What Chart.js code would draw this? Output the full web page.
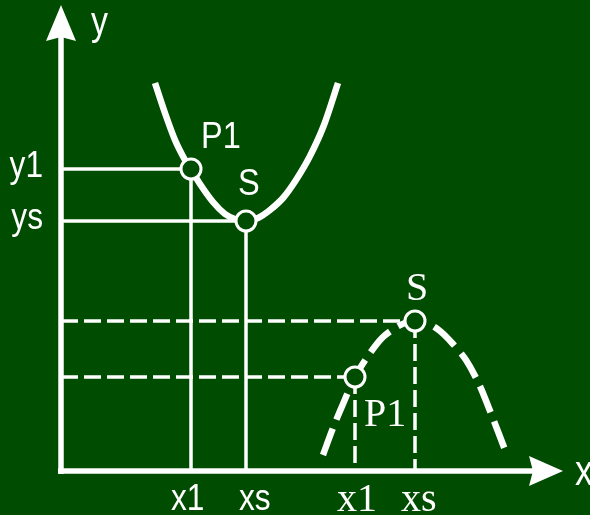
<!DOCTYPE html>
<html>
<head>
<meta charset="utf-8">
<script src="https://cdn.jsdelivr.net/npm/chart.js@4.4.1/dist/chart.umd.min.js"></script>
<style>
  html, body { margin: 0; padding: 0; background: #004c00; }
  canvas { display: block; }
</style>
</head>
<body>
<canvas id="c" width="590" height="515"></canvas>
<script>
// ---- Data (chart units; origin at the axes' intersection) ----
// Solid upward parabola
const upX = [94, 104, 114, 124, 130, 139, 152, 164, 174, 185, 197, 209, 222, 235, 249, 263, 277];
const upY = [388, 358, 331, 311, 302, 287, 269, 257, 252, 250, 253, 261, 273, 291, 315, 346, 388];
// Dashed downward parabola
const downX = [262, 272, 282, 294, 307, 321, 334, 344, 354, 366, 379, 392, 405, 418, 431, 446];
const downY = [16, 43, 67, 94, 115, 133, 143, 148, 150, 148, 140, 127, 111, 87, 55, 16];
// Marked points: [P1, S]
const upMarkX = [130, 185];
const upMarkY = [302, 250];
const downMarkX = [294, 354];
const downMarkY = [94, 150];
const markNames = ['P1', 'S'];
// Tick-like labels
const yTickLabels = ['y1', 'ys'];
const xTickLabels = ['x1', 'xs'];
const axisNames = ['x', 'y'];
// Axis extents (arrow tips)
const xAxisEnd = 502;
const yAxisEnd = 466;

const BG = '#004c00';
const FG = '#ffffff';

const pts = (xs, ys) => xs.map((x, i) => ({ x, y: ys[i] }));

// guide lines from marks to axes
function guides(mx, my) {
  const out = [];
  for (let i = 0; i < mx.length; i++) {
    out.push([{ x: 0, y: my[i] }, { x: mx[i], y: my[i] }]);
    out.push([{ x: mx[i], y: my[i] }, { x: mx[i], y: 0 }]);
  }
  return out;
}

const datasets = [];
// points (top)
datasets.push({ data: pts(upMarkX, upMarkY), showLine: false, pointRadius: 10, pointBorderWidth: 3,
  pointBackgroundColor: BG, pointBorderColor: FG, order: 0 });
datasets.push({ data: pts(downMarkX, downMarkY), showLine: false, pointRadius: 10, pointBorderWidth: 3,
  pointBackgroundColor: BG, pointBorderColor: FG, order: 0 });
// curves
datasets.push({ data: pts(upX, upY), showLine: true, pointRadius: 0, borderColor: FG, borderWidth: 6.5,
  tension: 0.3, borderCapStyle: 'butt', order: 1 });
datasets.push({ data: pts(downX, downY), showLine: true, pointRadius: 0, borderColor: FG, borderWidth: 6.5,
  tension: 0.3, borderDash: [28, 10], borderCapStyle: 'butt', order: 1 });
// guide lines
guides(upMarkX, upMarkY).forEach(d => datasets.push({ data: d, showLine: true, pointRadius: 0,
  borderColor: FG, borderWidth: 3.5, order: 2 }));
guides(downMarkX, downMarkY).forEach(d => datasets.push({ data: d, showLine: true, pointRadius: 0,
  borderColor: FG, borderWidth: 3.5, borderDash: [17, 6], order: 2 }));
// axes (lines up to arrow bases)
datasets.push({ data: [{ x: -3, y: 0 }, { x: xAxisEnd - 30, y: 0 }], showLine: true, pointRadius: 0,
  borderColor: FG, borderWidth: 5.5, order: 3 });
datasets.push({ data: [{ x: 0, y: -3 }, { x: 0, y: yAxisEnd - 30 }], showLine: true, pointRadius: 0,
  borderColor: FG, borderWidth: 5.5, order: 3 });

const decor = {
  id: 'decor',
  beforeDraw(chart) {
    const c = chart.ctx;
    c.save();
    c.fillStyle = BG;
    c.fillRect(0, 0, chart.width, chart.height);
    c.restore();
  },
  afterDatasetsDraw(chart) {
    const c = chart.ctx, xs = chart.scales.x, ys = chart.scales.y;
    const px = v => xs.getPixelForValue(v), py = v => ys.getPixelForValue(v);
    const ox = px(0), oy = py(0);
    c.save();
    c.fillStyle = FG;
    // y arrow
    const ty = py(yAxisEnd);
    c.beginPath();
    c.moveTo(ox, ty); c.lineTo(ox + 15, ty + 36); c.lineTo(ox, ty + 32); c.lineTo(ox - 15, ty + 36);
    c.closePath(); c.fill();
    // x arrow
    const tx = px(xAxisEnd);
    c.beginPath();
    c.moveTo(tx, oy); c.lineTo(tx - 34, oy - 15); c.lineTo(tx - 30, oy); c.lineTo(tx - 34, oy + 15);
    c.closePath(); c.fill();

    const txt = (s, x, y, font, align, sx) => {
      c.save();
      c.font = font; c.textAlign = align || 'left'; c.textBaseline = 'alphabetic';
      c.translate(x, y); c.scale(sx || 1, 1);
      c.fillText(s, 0, 0);
      c.restore();
    };
    const SANS = '"Liberation Sans", Arial, sans-serif';
    const SERIF = '"Liberation Serif", "Times New Roman", serif';
    // axis names
    txt(axisNames[1], ox + 30, ty + 30, '40px ' + SANS, 'left', 0.85);
    txt(axisNames[0], tx + 12, oy + 14, '42px ' + SANS, 'left', 0.85);
    // upper (solid) labels
    const uP = [px(upMarkX[0]), py(upMarkY[0])], uS = [px(upMarkX[1]), py(upMarkY[1])];
    txt(yTickLabels[0], ox - 18, uP[1] + 8, '36px ' + SANS, 'right', 0.88);
    txt(yTickLabels[1], ox - 18, uS[1] + 8, '36px ' + SANS, 'right', 0.88);
    txt(xTickLabels[0], uP[0] - 20, oy + 39, '36px ' + SANS, 'left', 0.88);
    txt(xTickLabels[1], uS[0] - 7, oy + 39, '36px ' + SANS, 'left', 0.88);
    txt(markNames[0], uP[0] + 10, uP[1] - 21, '37px ' + SANS, 'left', 0.88);
    txt(markNames[1], uS[0] - 8, uS[1] - 26, '37px ' + SANS, 'left', 0.88);
    // lower (dashed) labels
    const dP = [px(downMarkX[0]), py(downMarkY[0])], dS = [px(downMarkX[1]), py(downMarkY[1])];
    txt(markNames[1], dS[0] - 9, dS[1] - 21, '40px ' + SERIF);
    txt(markNames[0], dP[0] + 9, dP[1] + 49, '40px ' + SERIF);
    txt(xTickLabels[0], dP[0] - 18, oy + 40, '40px ' + SERIF);
    txt(xTickLabels[1], dS[0] - 14, oy + 40, '40px ' + SERIF);
    c.restore();
  }
};

new Chart(document.getElementById('c'), {
  type: 'scatter',
  data: { datasets },
  options: {
    responsive: false,
    animation: false,
    layout: { padding: 0, autoPadding: false },
    plugins: { legend: { display: false }, tooltip: { enabled: false } },
    scales: {
      x: { type: 'linear', display: false, min: -61, max: 529 },
      y: { type: 'linear', display: false, min: -44, max: 471 }
    }
  },
  plugins: [decor]
});
</script>
</body>
</html>
